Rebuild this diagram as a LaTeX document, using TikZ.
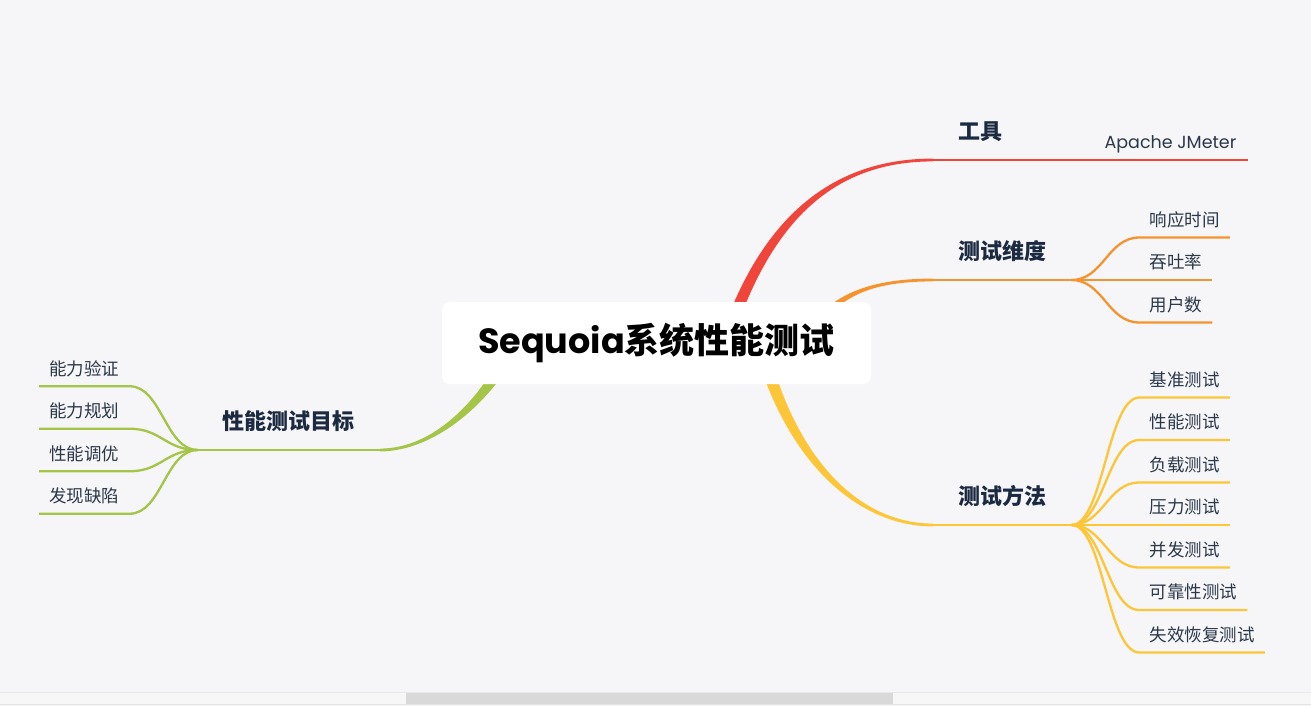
\documentclass[tikz,border=0pt]{standalone}
\usepackage{fontspec}
\setmainfont{Poppins}
\newfontfamily\cjk{Noto Sans CJK SC}
\usetikzlibrary{calc,positioning}

\definecolor{bgcol}{HTML}{F6F6F8}
\definecolor{redb}{HTML}{F0453A}
\definecolor{orangeb}{HTML}{F7932F}
\definecolor{yellowb}{HTML}{FDC638}
\definecolor{greenb}{HTML}{A4C548}
\definecolor{inkcol}{HTML}{1B2A41}
\definecolor{leafcol}{HTML}{2A3849}

\begin{document}
\begin{tikzpicture}[
        x=1pt, y=-1pt,
        root/.style={fill=white, rounded corners=8pt, minimum width=429pt, minimum height=82pt,
          inner sep=0pt, text=black, font=\fontsize{35}{35}\selectfont\bfseries},
        topic/.style={inner xsep=25pt, inner ysep=18pt, text height=19.4pt, text depth=2.6pt,
          text=inkcol, font=\cjk\bfseries\fontsize{22}{22}\selectfont},
        leaf/.style={inner xsep=10pt, inner ysep=8.75pt, text height=15.4pt, text depth=2.1pt,
          text=leafcol, font=\cjk\fontsize{17.5}{17.5}\selectfont},
        main line/.style={line width=2.8pt},
        leaf line/.style={line width=2.3pt}
      ]
      \useasboundingbox (0,0) rectangle (1311,706);
      \fill[bgcol] (0,0) rectangle (1311,706);

      % scroll bar
      \fill[white!97!black] (0,692) rectangle (1311,706);
      \draw[white!91!black] (0,692) -- (1311,692);
      \draw[white!90!black] (0,704.5) -- (1311,704.5);
      \fill[white!85!black] (406,692.5) rectangle (893,704);

      \coordinate (c) at (656.5,343);

      % topics
      \node[topic, anchor=south west] (tool) at (933,160) {工具};
      \node[leaf, font=\fontsize{17.5}{17.5}\selectfont, anchor=south west, inner xsep=11pt]
        (jmeter) at ([xshift=66pt]tool.south east) {Apache JMeter};
      \node[topic, anchor=south west] (dims) at (933,280) {测试维度};
      \node[topic, anchor=south west] (method) at (933,525) {测试方法};
      \node[topic, anchor=south east] (goal) at (380,450) {性能测试目标};

      % main branches
      \fill[redb] (719.3,341.1) .. controls (760,218.5) and (831,158.6) .. ([yshift=1.4pt]tool.south west)
        -- ([yshift=-1.4pt]tool.south west) .. controls (833,161.4) and (770,221.5) .. (730.7,344.9) -- cycle;
      \draw[main line, redb] (tool.south west) -- (jmeter.south east);

      \fill[orangeb] (800.1,340.5) .. controls (825,296.5) and (865,278.6) .. ([yshift=1.4pt]dims.south west)
        -- ([yshift=-1.4pt]dims.south west) .. controls (865,281.4) and (831,299.5) .. (809.9,345.5) -- cycle;
      \draw[main line, orangeb] (dims.south west) -- (dims.south east);

      \fill[yellowb] (766.3,341.4) .. controls (794.5,458.8) and (859,523.6) .. ([yshift=1.4pt]method.south west)
        -- ([yshift=-1.4pt]method.south west) .. controls (857,526.4) and (785.5,461.2) .. (753.7,344.6) -- cycle;
      \draw[main line, yellowb] (method.south west) -- (method.south east);

      \fill[greenb] (520.8,345.9) .. controls (491.5,402.3) and (435,451.4) .. ([yshift=-1.4pt]goal.south east)
        -- ([yshift=1.4pt]goal.south east) .. controls (435,448.6) and (482.5,397.7) .. (509.2,340.1) -- cycle;
      \draw[main line, greenb] (goal.south east) -- (goal.south west);

      % leaves
      \foreach \t [count=\i] in {响应时间,吞吐率,用户数} {
        \node[leaf, anchor=south west] (d\i) at ([shift={(68,{(\i-2)*42.5})}]dims.south east) {\t};
        \draw[leaf line, orangeb] (dims.south east) .. controls +(32,0) and +(-32,0) .. (d\i.south west)
          -- (d\i.south east);
      }
      \foreach \t [count=\i] in {基准测试,性能测试,负载测试,压力测试,并发测试,可靠性测试,失效恢复测试} {
        \node[leaf, anchor=south west] (m\i) at ([shift={(68,{(\i-4)*42.5})}]method.south east) {\t};
        \draw[leaf line, yellowb] (method.south east) .. controls +(32,0) and +(-32,0) .. (m\i.south west)
          -- (m\i.south east);
      }
      \foreach \t [count=\i] in {能力验证,能力规划,性能调优,发现缺陷} {
        \node[leaf, anchor=south east] (g\i) at ([shift={(-68,{(\i-2.5)*42.5})}]goal.south west) {\t};
        \draw[leaf line, greenb] (goal.south west) .. controls +(-32,0) and +(32,0) .. (g\i.south east)
          -- (g\i.south west);
      }

      % root
      \node[root] (rootbox) at (c) {Sequoia{\cjk 系统性能测试}};
\end{tikzpicture}
\end{document}
